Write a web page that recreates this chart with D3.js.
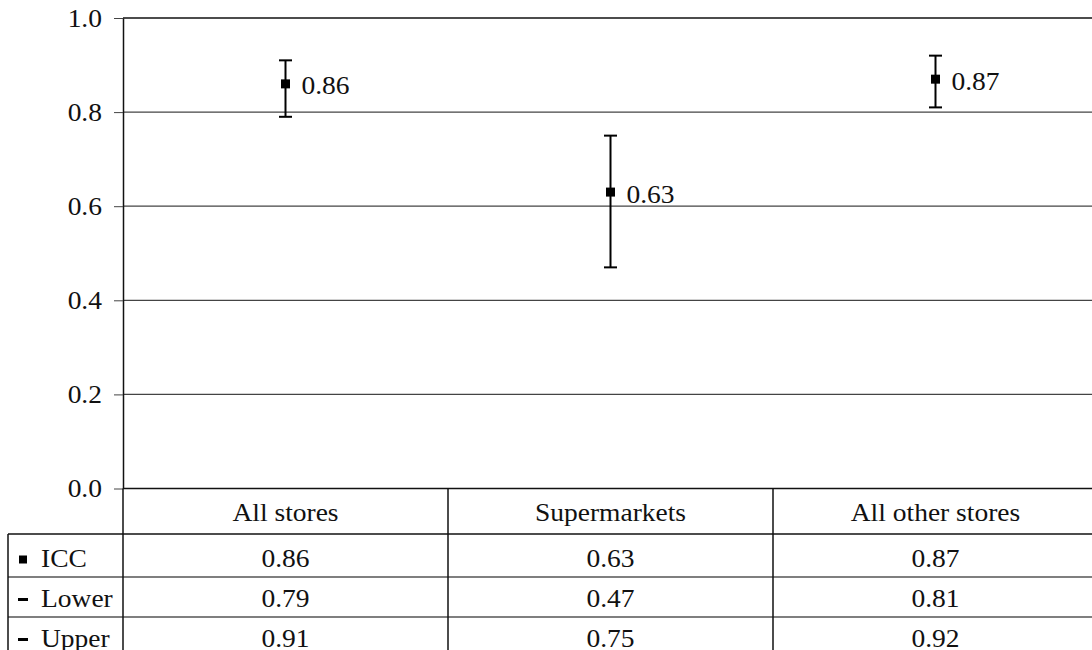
<!DOCTYPE html>
<html>
<head>
<meta charset="utf-8">
<script src="https://cdn.jsdelivr.net/npm/d3@7"></script>
<style>
  html, body { margin: 0; padding: 0; background: #fff; }
  svg { display: block; font-family: "Liberation Serif", "Times New Roman", serif; }
</style>
</head>
<body>
<svg id="chart" width="1092" height="650"></svg>
<script>
// Intraclass correlation coefficients with 95% confidence limits, by store type
const categories = ["All stores", "Supermarkets", "All other stores"];
const icc   = [0.86, 0.63, 0.87];
const lower = [0.79, 0.47, 0.81];
const upper = [0.91, 0.75, 0.92];
const yTicks = [0.0, 0.2, 0.4, 0.6, 0.8, 1.0];
const rowNames = ["ICC", "Lower", "Upper"];

const svg = d3.select("#chart");
const plot = { left: 123, right: 1098, top: 18, bottom: 488.5 };
const fontSize = 25;
const stretch = 1.1; // glyphs are drawn slightly wide

const x = d3.scaleBand().domain(categories).range([plot.left, plot.right]);
const y = d3.scaleLinear().domain([0, 1]).range([plot.bottom, plot.top]);

function label(g, px, py, str, anchor) {
  return g.append("text")
    .attr("transform", `translate(${px},${py}) scale(${stretch},1)`)
    .attr("text-anchor", anchor || "start")
    .attr("font-size", fontSize)
    .attr("fill", "#111")
    .text(str);
}

// horizontal gridlines
svg.append("g").selectAll("line")
  .data(yTicks.filter(t => t > 0 && t < 1))
  .join("line")
  .attr("x1", plot.left).attr("x2", plot.right)
  .attr("y1", d => y(d)).attr("y2", d => y(d))
  .attr("stroke", "#444").attr("stroke-width", 1.2);

// top border
svg.append("line")
  .attr("x1", plot.left).attr("x2", plot.right)
  .attr("y1", y(1)).attr("y2", y(1))
  .attr("stroke", "#111").attr("stroke-width", 1.5);

// y axis
const yAxis = svg.append("g")
  .attr("transform", `translate(${plot.left},0)`)
  .call(d3.axisLeft(y).tickValues(yTicks).tickFormat(d3.format(".1f")).tickSize(9).tickSizeOuter(0));
yAxis.select(".domain").attr("stroke", "#111").attr("stroke-width", 1.5);
yAxis.selectAll(".tick line").attr("stroke", "#444");
yAxis.selectAll(".tick text")
  .attr("x", null).attr("dy", "0.32em")
  .attr("transform", `translate(-21,0) scale(${stretch},1)`)
  .attr("font-size", fontSize)
  .attr("font-family", "Liberation Serif, Times New Roman, serif")
  .attr("fill", "#111");

// error bars and markers
const marks = svg.append("g");
categories.forEach((c, i) => {
  const cx = x(c) + x.bandwidth() / 2;
  marks.append("line")
    .attr("x1", cx).attr("x2", cx)
    .attr("y1", y(lower[i])).attr("y2", y(upper[i]))
    .attr("stroke", "#000").attr("stroke-width", 2);
  [lower[i], upper[i]].forEach(v => {
    marks.append("line")
      .attr("x1", cx - 6.5).attr("x2", cx + 6.5)
      .attr("y1", y(v)).attr("y2", y(v))
      .attr("stroke", "#000").attr("stroke-width", 2);
  });
  marks.append("rect")
    .attr("x", cx - 4.5).attr("y", y(icc[i]) - 4.5)
    .attr("width", 9).attr("height", 9)
    .attr("fill", "#000");
  label(marks, cx + 16, y(icc[i]) + 10.5, icc[i].toFixed(2));
});

// data table below the plot
const rows = [icc, lower, upper];
const rowEdges = [534, 577, 617, 657];
const table = svg.append("g");
const legendLeft = 8;

// x axis / header top
table.append("line")
  .attr("x1", plot.left).attr("x2", plot.right)
  .attr("y1", plot.bottom).attr("y2", plot.bottom)
  .attr("stroke", "#111").attr("stroke-width", 1.5);
// row separators
rowEdges.slice(0, 3).forEach((ry, k) => {
  table.append("line")
    .attr("x1", legendLeft).attr("x2", plot.right)
    .attr("y1", ry).attr("y2", ry)
    .attr("stroke", k === 0 ? "#111" : "#555").attr("stroke-width", 1.5);
});
// column separators
categories.forEach((c, i) => {
  table.append("line")
    .attr("x1", x(c)).attr("x2", x(c))
    .attr("y1", plot.bottom).attr("y2", 650)
    .attr("stroke", "#111").attr("stroke-width", 1.5);
});
table.append("line")
  .attr("x1", legendLeft).attr("x2", legendLeft)
  .attr("y1", rowEdges[0]).attr("y2", 650)
  .attr("stroke", "#111").attr("stroke-width", 1.5);

// header labels
categories.forEach(c => {
  label(table, x(c) + x.bandwidth() / 2, 521, c, "middle");
});

// row labels with legend keys
const baselines = [566.5, 607, 647];
rowNames.forEach((name, r) => {
  const base = baselines[r];
  if (r === 0) {
    table.append("rect").attr("x", 19).attr("y", base - 11).attr("width", 8).attr("height", 8).attr("fill", "#000");
  } else {
    table.append("rect").attr("x", 18).attr("y", base - 9).attr("width", 10).attr("height", 3).attr("fill", "#000");
  }
  label(table, 41, base, name);
  categories.forEach((c, i) => {
    label(table, x(c) + x.bandwidth() / 2, base, rows[r][i].toFixed(2), "middle");
  });
});
</script>
</body>
</html>
